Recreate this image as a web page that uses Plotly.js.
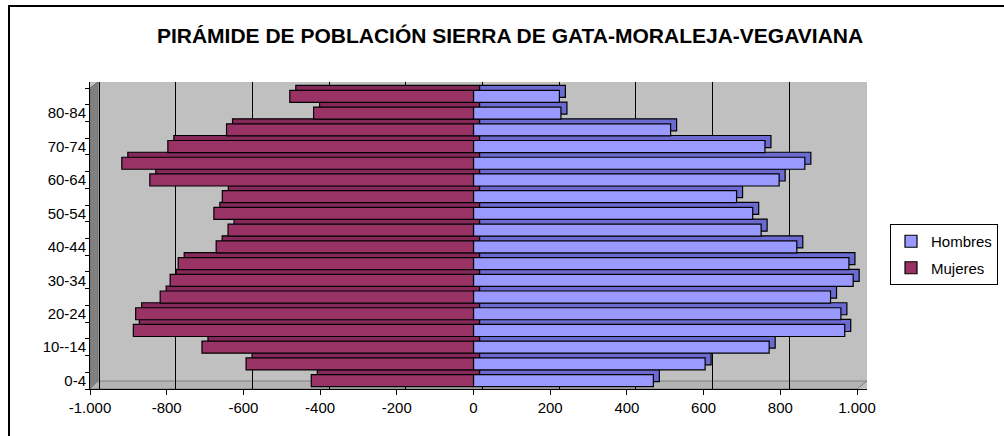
<!DOCTYPE html>
<html>
<head>
<meta charset="utf-8">
<script src="https://cdn.plot.ly/plotly-3.0.1.min.js"></script>
<style>html,body{margin:0;padding:0;background:#fff;}#chart{width:1004px;height:436px;}</style>
</head>
<body>
<div id="chart"></div>
<script>
// ---- data (bottom to top) ----
var categories = ["0-4","5-9","10--14","15-19","20-24","25-29","30-34","35-39","40-44","45-49","50-54","55-59","60-64","65-69","70-74","75-79","80-84","85+"];
var yTickText  = ["0-4","","10--14","","20-24","","30-34","","40-44","","50-54","","60-64","","70-74","","80-84",""];
var hombres = [469, 604, 771, 968, 958, 931, 990, 979, 843, 750, 728, 686, 797, 864, 760, 514, 228, 224];
var mujeres = [-423, -593, -708, -887, -881, -817, -791, -770, -671, -640, -677, -655, -844, -917, -797, -644, -417, -479];
var xTickVals = [-1000, -800, -600, -400, -200, 0, 200, 400, 600, 800, 1000];
var xTickText = ["-1.000", "-800", "-600", "-400", "-200", "0", "200", "400", "600", "800", "1.000"];

// ---- geometry (pixels) ----
var L = 90, R = 867, T = 82, B = 389;
var W = R - L, H = B - T;
var ppu = 767 / 2000;                  // px per unit on the front plane
var xMax = -1000 + W / ppu;            // front plane range
var pitch = (B - 88) / categories.length;
var yTop = categories.length - 0.5 + (88 - T) / pitch;
var dShadowX = 6 / ppu, dShadowY = 5 / pitch;   // 3D depth of bars
var dGridX = 9 / ppu;                            // back wall depth

var outline = {color: "#000000", width: 1.2};
var traces = [
  // depth faces (primary axes, shifted)
  {type: "bar", orientation: "h", name: "Hombres", x: hombres, y: categories, xaxis: "x", yaxis: "y",
   marker: {color: "#6a6ad0", line: outline}, showlegend: false, hoverinfo: "skip"},
  {type: "bar", orientation: "h", name: "Mujeres", x: mujeres, y: categories, xaxis: "x", yaxis: "y",
   marker: {color: "#85295a", line: outline}, showlegend: false, hoverinfo: "skip"},
  // front faces
  {type: "bar", orientation: "h", name: "Hombres", x: hombres, y: categories, xaxis: "x2", yaxis: "y2",
   marker: {color: "#9999FF", line: outline}, legendgroup: "h"},
  {type: "bar", orientation: "h", name: "Mujeres", x: mujeres, y: categories, xaxis: "x2", yaxis: "y2",
   marker: {color: "#993366", line: outline}, legendgroup: "m"},
  // invisible carrier for the back-wall grid axis
  {type: "bar", orientation: "h", x: hombres, y: categories, xaxis: "x3", yaxis: "y",
   marker: {opacity: 0, line: {width: 0}}, showlegend: false, hoverinfo: "skip"}
];

var font = {family: "Liberation Sans, Arial, sans-serif", size: 15, color: "#000"};
var px = function (p) { return (p - L) / W; };
var py = function (p) { return (B - p) / H; };

var layout = {
  width: 1004, height: 436,
  margin: {l: L, r: 1004 - R, t: T, b: 436 - B, pad: 0, autoexpand: false},
  paper_bgcolor: "#ffffff",
  plot_bgcolor: "#C0C0C0",
  font: font,
  barmode: "relative",
  bargap: 0.28,
  showlegend: true,
  title: {text: "PIRÁMIDE DE POBLACIÓN SIERRA DE GATA-MORALEJA-VEGAVIANA",
          font: {family: "Liberation Sans, Arial, sans-serif", size: 21, color: "#000", weight: "bold"},
          xref: "container", yref: "container", x: 510 / 1004, y: 1 - 36 / 436,
          xanchor: "center", yanchor: "middle"},
  xaxis: {range: [-1000 - dShadowX, xMax - dShadowX], showgrid: false, zeroline: false,
          showticklabels: false, ticks: "", showline: false, fixedrange: true},
  yaxis: {type: "category", categoryorder: "array", categoryarray: categories,
          range: [-0.5 - dShadowY, yTop - dShadowY], showgrid: false, zeroline: false,
          showticklabels: false, ticks: "", showline: false},
  xaxis2: {overlaying: "x", anchor: "y2", side: "bottom",
           range: [-1000, xMax], tickmode: "array", tickvals: xTickVals, ticktext: xTickText,
           showgrid: false, zeroline: false, showline: true, linecolor: "#000", linewidth: 1,
           ticks: "outside", ticklen: 5, tickcolor: "#000", tickfont: font},
  yaxis2: {overlaying: "y", anchor: "x2", side: "left", type: "category",
           categoryorder: "array", categoryarray: categories,
           range: [-0.5, yTop], tickmode: "array", tickvals: categories, ticktext: yTickText,
           tickson: "boundaries", ticks: "outside", ticklen: 4, tickcolor: "#000",
           showgrid: false, zeroline: false, showline: true, linecolor: "#000", linewidth: 1,
           tickfont: font},
  xaxis3: {overlaying: "x", anchor: "y", range: [-1000 - dGridX, xMax - dGridX],
           tickmode: "array", tickvals: xTickVals, showgrid: true, gridcolor: "#000", gridwidth: 1,
           showticklabels: false, ticks: "", zeroline: false, showline: false},
  legend: {xref: "container", yref: "container", x: 890 / 1004, y: 1 - 224 / 436,
           xanchor: "left", yanchor: "top",
           bgcolor: "#fff", bordercolor: "#000", borderwidth: 1,
           font: font, traceorder: "grouped", tracegroupgap: 4},
  shapes: [
    // left side wall
    {type: "path", xref: "paper", yref: "paper", layer: "between",
     path: "M 0,0 L 0," + py(88) + " L " + px(98) + ",1 L " + px(98) + "," + py(381) + " Z",
     fillcolor: "#808080", line: {color: "#6e6e6e", width: 1}},
    // floor
    {type: "path", xref: "paper", yref: "paper", layer: "between",
     path: "M 0,0 L " + px(857) + ",0 L 1," + py(381) + " L " + px(98) + "," + py(381) + " Z",
     fillcolor: "#b4b4b4", line: {color: "#808080", width: 1}},
    // outer chart border
    {type: "rect", xref: "paper", yref: "paper",
     x0: px(9), x1: px(1015), y0: py(445), y1: py(6),
     line: {color: "#000", width: 2}, fillcolor: "rgba(0,0,0,0)"}
  ]
};

Plotly.newPlot("chart", traces, layout, {displayModeBar: false, staticPlot: true});
</script>
</body>
</html>
